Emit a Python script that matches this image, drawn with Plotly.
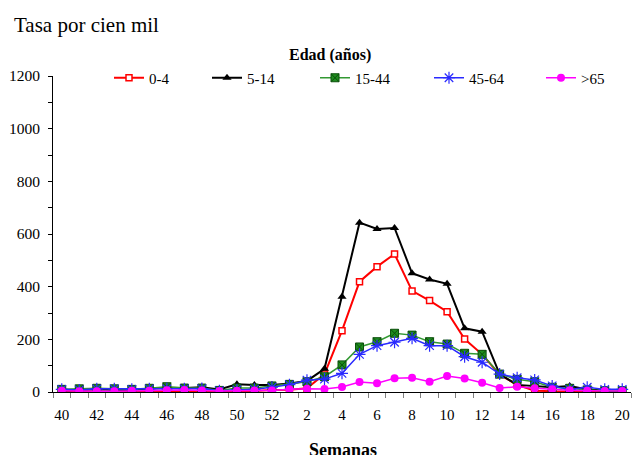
import plotly.graph_objects as go

semanas = [40, 41, 42, 43, 44, 45, 46, 47, 48, 49, 50, 51, 52,
           1, 2, 3, 4, 5, 6, 7, 8, 9, 10, 11, 12, 13, 14, 15, 16, 17, 18, 19, 20]

edad_0_4 = [2, 1, 1, 1, 1, 3, 5, 5, 4, 2, 3, 4, 8,
            9, 14, 68, 233, 419, 476, 524, 384, 347, 305, 201, 143, 66, 27, 5, 3, 3, 2, 2, 2]
edad_5_14 = [6, 8, 10, 9, 8, 12, 16, 15, 18, 10, 29, 27, 27,
             32, 42, 88, 362, 643, 619, 623, 451, 427, 411, 242, 229, 68, 27, 23, 18, 23, 10, 5, 4]
edad_15_44 = [10, 12, 14, 12, 10, 14, 20, 15, 15, 6, 15, 15, 23,
              29, 39, 58, 103, 171, 191, 223, 216, 191, 182, 147, 143, 68, 48, 39, 18, 14, 8, 5, 5]
edad_45_64 = [10, 8, 12, 12, 10, 12, 12, 12, 13, 5, 8, 10, 18,
              28, 45, 49, 71, 143, 176, 189, 204, 176, 176, 134, 113, 68, 54, 46, 23, 10, 18, 10, 10]
edad_65 = [5, 3, 3, 3, 5, 5, 7, 8, 6, 4, 5, 6, 6,
           10, 12, 11, 19, 38, 33, 52, 54, 39, 61, 51, 35, 15, 20, 14, 10, 7, 5, 4, 4]

series_names = ["0-4", "5-14", "15-44", "45-64", ">65"]
tick_labels = [str(s) for s in semanas]

x_idx = list(range(len(semanas)))
tickvals = x_idx[::2]
ticktext = tick_labels[::2]

SERIF = "Liberation Serif"

# plot area in pixels (for placing annotations/legends)
L, R, T, B = 53, 3, 76, 63
W, H = 634, 455
PW, PH = W - L - R, H - T - B


def px_x(x):
    return (x - L) / PW


def px_y(y):
    return (H - B - y) / PH


fig = go.Figure()

traces = [
    (edad_0_4, dict(color="#FF0000", width=2),
     dict(symbol="square", size=6, color="white", line=dict(color="#FF0000", width=1.5))),
    (edad_5_14, dict(color="#000000", width=2),
     dict(symbol="triangle-up", size=8, color="#000000")),
    (edad_15_44, dict(color="#339933", width=1.5),
     dict(symbol="square-x", size=8, color="#1E8C1E", line=dict(color="#0B4F0B", width=1))),
    (edad_45_64, dict(color="#2A2AFF", width=1.5),
     dict(symbol="asterisk-open", size=10, color="#2A2AFF", line=dict(color="#2A2AFF", width=1.2))),
    (edad_65, dict(color="#FF00FF", width=1.5),
     dict(symbol="circle", size=8, color="#FF00FF")),
]

legend_ids = ["legend", "legend2", "legend3", "legend4", "legend5"]
legend_marker_px = [129, 227, 335, 449, 561]

for (vals, line, marker), name, lid in zip(traces, series_names, legend_ids):
    fig.add_trace(go.Scatter(x=x_idx, y=vals, name=name, mode="lines+markers",
                             line=line, marker=marker, legend=lid))

legend_layout = {}
for lid, mx in zip(legend_ids, legend_marker_px):
    legend_layout[lid] = dict(
        orientation="h", x=px_x(mx - 20), xanchor="left", y=px_y(78), yanchor="middle",
        font=dict(family=SERIF, size=15, color="#000000"),
        bgcolor="rgba(0,0,0,0)", itemwidth=30,
        itemclick=False, itemdoubleclick=False)

fig.update_layout(
    width=W, height=H,
    margin=dict(l=L, r=R, t=T, b=B, autoexpand=False),
    paper_bgcolor="white", plot_bgcolor="white",
    font=dict(family=SERIF, size=15, color="#000000"),
    showlegend=True,
    xaxis=dict(
        range=[-0.5, len(semanas) - 0.5],
        tickmode="array", tickvals=tickvals, ticktext=ticktext,
        ticks="outside", ticklen=9, tickcolor="rgba(0,0,0,0)",
        showgrid=False, zeroline=False,
        showline=True, linecolor="#000000", linewidth=1,
        tickfont=dict(family=SERIF, size=15, color="#000000"),
        minor=dict(tickmode="linear", tick0=-0.5, dtick=1, ticks="outside",
                   ticklen=5, tickcolor="#808080", tickwidth=1, showgrid=False),
    ),
    yaxis=dict(
        range=[0, 1200], tickmode="linear", tick0=0, dtick=200,
        ticks="outside", ticklen=4, tickcolor="#000000",
        showgrid=False, zeroline=False,
        showline=True, linecolor="#000000", linewidth=1,
        tickfont=dict(family=SERIF, size=15.5, color="#000000"),
        ticklabelstandoff=5,
        minor=dict(tickmode="linear", tick0=0, dtick=100, ticks="outside",
                   ticklen=4, tickcolor="#000000", showgrid=False),
    ),
    annotations=[
        dict(text="Tasa por cien mil", xref="paper", yref="paper",
             x=px_x(12), y=px_y(25), xanchor="left", yanchor="middle",
             showarrow=False, font=dict(family=SERIF, size=21, color="#000000")),
        dict(text="<b>Edad (años)</b>", xref="paper", yref="paper",
             x=px_x(330), y=px_y(55), xanchor="center", yanchor="middle",
             showarrow=False, font=dict(family=SERIF, size=16, color="#000000")),
        dict(text="<b>Semanas</b>", xref="paper", yref="paper",
             x=px_x(343), y=px_y(438), xanchor="center", yanchor="top",
             showarrow=False, font=dict(family=SERIF, size=18, color="#000000")),
    ],
    **legend_layout,
)

fig.write_html("out.html", config={"displayModeBar": False},
               post_script="document.body.style.margin='0px';")
